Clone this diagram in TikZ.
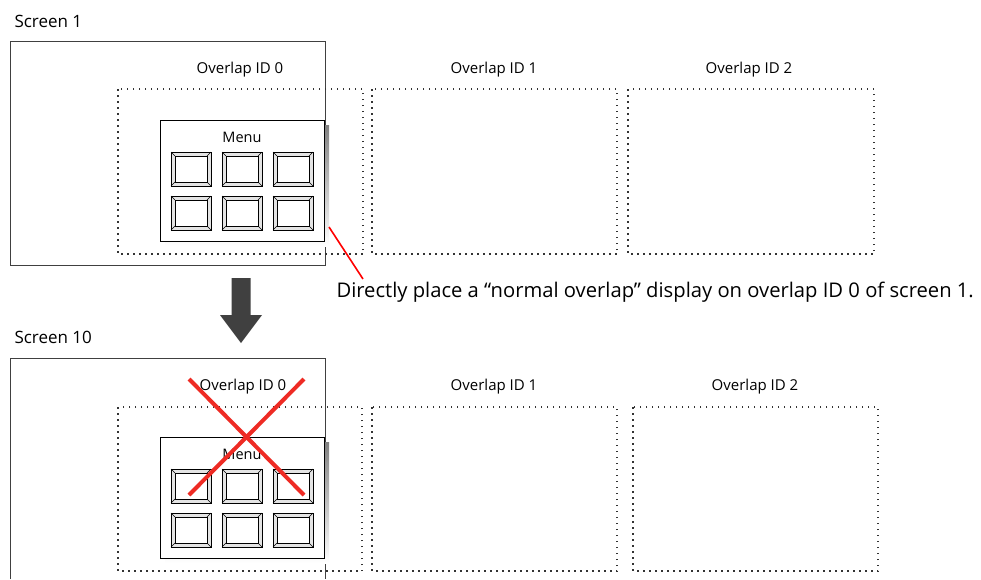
\documentclass[tikz,border=0pt]{standalone}
\usepackage{fontspec}
\setmainfont{Open Sans}
\usepackage{tikz}
\usetikzlibrary{positioning}
\definecolor{edge}{HTML}{404040}
\definecolor{dots}{HTML}{333333}
\definecolor{shade}{HTML}{777777}
\definecolor{bevel}{HTML}{E4E4E4}
\definecolor{cross}{HTML}{EE2B24}
\definecolor{leadred}{HTML}{FF0000}

\tikzset{
  screenbox/.style={draw=edge,line width=0.9pt},
  olapbox/.style={draw=dots,line width=1.2pt,dash pattern=on 1.5pt off 4.5pt},
  olaplbl/.style={font=\fontsize{15}{18}\selectfont,anchor=base},
  scrlbl/.style={font=\fontsize{17}{20}\selectfont,anchor=base west},
  menulbl/.style={font=\fontsize{14.5}{17}\selectfont,anchor=base},
  panel/.style={draw=black,fill=white,line width=1pt},
  btn/.pic={
    \fill[bevel] (0,0) rectangle (40,34);
    \draw[line width=0.4pt] (0,0) -- (4,4) (40,0) -- (36,4) (0,34) -- (4,30) (40,34) -- (36,30);
    \draw[fill=white,line width=0.7pt] (4,4) rectangle (36,30);
    \draw[line width=1pt] (0,0) rectangle (40,34);
  }
}

\begin{document}
\begin{tikzpicture}[x=1pt,y=-1pt]
\useasboundingbox[fill=white] (0,0) rectangle (981,579);

% Screen 1
\node[scrlbl] (scr1) at (11,27) {Screen 1};
\draw[screenbox] (10,41) rectangle (325,265);
\node[olaplbl] (ol10) at (240,73) {Overlap ID 0};
\node[olaplbl] (ol11) at (494,73) {Overlap ID 1};
\node[olaplbl] (ol12) at (749,73) {Overlap ID 2};
\draw[olapbox] (118,89) rectangle (363,254);
\draw[olapbox] (372,89) rectangle (617,254);
\draw[olapbox] (628,89) rectangle (874,254);

% Menu on overlap ID 0
\fill[shade] (165,125) rectangle (329,246);
\draw[panel] (160,120) rectangle (324,241);
\node[menulbl] (menu1) at (242,142) {Menu};
\pic at (171,152) {btn};
\pic at (222,152) {btn};
\pic at (273,152) {btn};
\pic at (171,196) {btn};
\pic at (222,196) {btn};
\pic at (273,196) {btn};

% Note
\node[font=\fontsize{20.2}{24}\selectfont,anchor=base west] (note) at (333,297)
  {Directly place a “normal overlap” display on overlap ID 0 of screen 1.};
\coordinate (mtip) at (329,227);
\coordinate (lead) at (363,279);
\draw[leadred,line width=1.6pt] (mtip) -- (lead);

% Down arrow
\fill[edge] (231.5,278) -- (250.5,278) -- (250.5,315) -- (262,315)
  -- (241,343) -- (220,315) -- (231.5,315) -- cycle;

% Screen 10
\node[scrlbl] (scr10) at (11,343) {Screen 10};
\draw[screenbox] (10,579) -- (10,358) -- (325,358) -- (325,579);
\node[olaplbl] (ol20) at (243,390) {Overlap ID 0};
\node[olaplbl] (ol21) at (494,390) {Overlap ID 1};
\node[olaplbl] (ol22) at (755,390) {Overlap ID 2};
\draw[olapbox] (118,407) rectangle (362,571);
\draw[olapbox] (372,407) rectangle (617,571);
\draw[olapbox] (633,407) rectangle (878,571);

% Menu on overlap ID 0
\fill[shade] (165,442) rectangle (329,563);
\draw[panel] (160,437) rectangle (324,558);
\node[menulbl] (menu2) at (242,459) {Menu};
\pic at (171,469) {btn};
\pic at (222,469) {btn};
\pic at (273,469) {btn};
\pic at (171,513) {btn};
\pic at (222,513) {btn};
\pic at (273,513) {btn};

% Cross
\draw[cross,line width=4pt] (189,379) -- (304,495);
\draw[cross,line width=4pt] (304,379) -- (189,495);
\end{tikzpicture}
\end{document}
